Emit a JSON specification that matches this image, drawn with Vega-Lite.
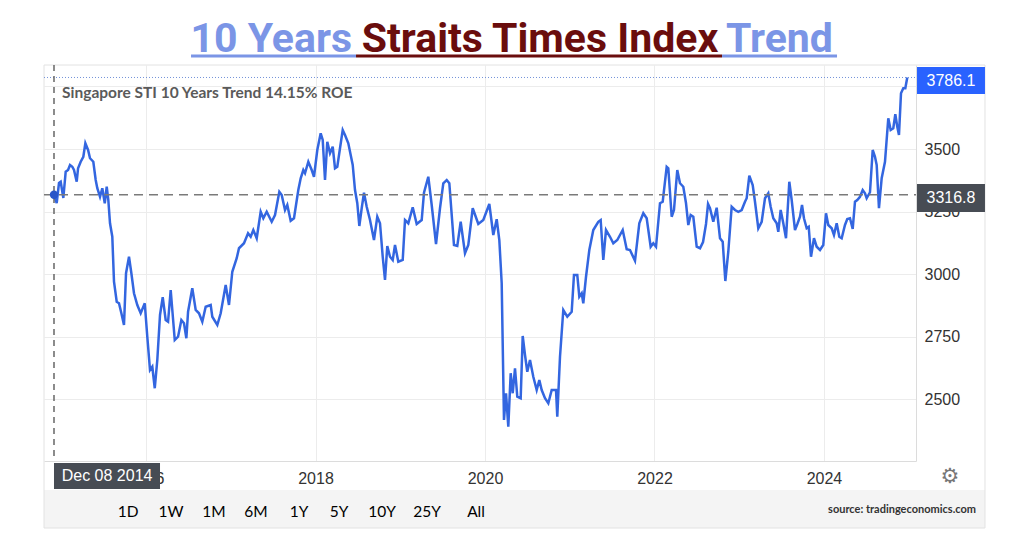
{
  "$schema": "https://vega.github.io/schema/vega-lite/v6.json",
  "width": 872,
  "height": 396,
  "autosize": {"type": "none"},
  "padding": {"left": 44, "top": 65, "right": 108, "bottom": 85},
  "background": "white",
  "config": {
    "view": {"stroke": null},
    "style": {
      "btn": {"font": "Lato", "fontSize": 15.5, "fill": "#444", "align": "center", "baseline": "middle"},
      "ttl": {"font": "Roboto", "fontSize": 41, "fontWeight": "bold", "baseline": "alphabetic"}
    }
  },
  "data": {
    "values": [
      {"year": 2014.875, "close": 3322}, {"year": 2014.914, "close": 3317}, {"year": 2014.946, "close": 3284},
      {"year": 2014.973, "close": 3364}, {"year": 2014.993, "close": 3369}, {"year": 2015.024, "close": 3304},
      {"year": 2015.052, "close": 3409}, {"year": 2015.080, "close": 3416}, {"year": 2015.103, "close": 3436},
      {"year": 2015.130, "close": 3429}, {"year": 2015.150, "close": 3416}, {"year": 2015.182, "close": 3369},
      {"year": 2015.198, "close": 3423}, {"year": 2015.229, "close": 3449}, {"year": 2015.260, "close": 3469},
      {"year": 2015.284, "close": 3523}, {"year": 2015.316, "close": 3496}, {"year": 2015.339, "close": 3463},
      {"year": 2015.378, "close": 3449}, {"year": 2015.406, "close": 3376}, {"year": 2015.425, "close": 3343},
      {"year": 2015.457, "close": 3309}, {"year": 2015.484, "close": 3343}, {"year": 2015.513, "close": 3283},
      {"year": 2015.536, "close": 3349}, {"year": 2015.555, "close": 3296}, {"year": 2015.575, "close": 3203},
      {"year": 2015.602, "close": 3149}, {"year": 2015.622, "close": 2969}, {"year": 2015.654, "close": 2889},
      {"year": 2015.681, "close": 2883}, {"year": 2015.709, "close": 2843}, {"year": 2015.740, "close": 2796},
      {"year": 2015.764, "close": 3003}, {"year": 2015.799, "close": 3069}, {"year": 2015.827, "close": 3003},
      {"year": 2015.858, "close": 2923}, {"year": 2015.897, "close": 2876}, {"year": 2015.937, "close": 2843},
      {"year": 2015.985, "close": 2883}, {"year": 2016.015, "close": 2749}, {"year": 2016.047, "close": 2616},
      {"year": 2016.074, "close": 2629}, {"year": 2016.103, "close": 2543}, {"year": 2016.133, "close": 2656},
      {"year": 2016.165, "close": 2836}, {"year": 2016.197, "close": 2907}, {"year": 2016.232, "close": 2816},
      {"year": 2016.260, "close": 2809}, {"year": 2016.291, "close": 2936}, {"year": 2016.339, "close": 2736},
      {"year": 2016.378, "close": 2749}, {"year": 2016.417, "close": 2816}, {"year": 2016.448, "close": 2803},
      {"year": 2016.476, "close": 2743}, {"year": 2016.496, "close": 2849}, {"year": 2016.546, "close": 2943},
      {"year": 2016.586, "close": 2856}, {"year": 2016.625, "close": 2843}, {"year": 2016.664, "close": 2809},
      {"year": 2016.704, "close": 2869}, {"year": 2016.763, "close": 2876}, {"year": 2016.782, "close": 2829},
      {"year": 2016.841, "close": 2796}, {"year": 2016.881, "close": 2843}, {"year": 2016.940, "close": 2956},
      {"year": 2016.979, "close": 2876}, {"year": 2017.018, "close": 3009}, {"year": 2017.070, "close": 3063},
      {"year": 2017.097, "close": 3103}, {"year": 2017.156, "close": 3123}, {"year": 2017.204, "close": 3163},
      {"year": 2017.235, "close": 3149}, {"year": 2017.266, "close": 3176}, {"year": 2017.306, "close": 3143},
      {"year": 2017.353, "close": 3249}, {"year": 2017.384, "close": 3223}, {"year": 2017.424, "close": 3249},
      {"year": 2017.483, "close": 3209}, {"year": 2017.522, "close": 3236}, {"year": 2017.573, "close": 3329},
      {"year": 2017.601, "close": 3316}, {"year": 2017.640, "close": 3256}, {"year": 2017.667, "close": 3276},
      {"year": 2017.707, "close": 3213}, {"year": 2017.746, "close": 3223}, {"year": 2017.797, "close": 3336},
      {"year": 2017.825, "close": 3383}, {"year": 2017.856, "close": 3416}, {"year": 2017.876, "close": 3403},
      {"year": 2017.915, "close": 3449}, {"year": 2017.955, "close": 3416}, {"year": 2017.982, "close": 3389},
      {"year": 2018.021, "close": 3496}, {"year": 2018.061, "close": 3563}, {"year": 2018.085, "close": 3536},
      {"year": 2018.112, "close": 3376}, {"year": 2018.139, "close": 3529}, {"year": 2018.171, "close": 3483},
      {"year": 2018.203, "close": 3509}, {"year": 2018.230, "close": 3423}, {"year": 2018.257, "close": 3429},
      {"year": 2018.289, "close": 3503}, {"year": 2018.321, "close": 3576}, {"year": 2018.348, "close": 3556},
      {"year": 2018.387, "close": 3523}, {"year": 2018.439, "close": 3436}, {"year": 2018.466, "close": 3336},
      {"year": 2018.493, "close": 3283}, {"year": 2018.517, "close": 3192}, {"year": 2018.545, "close": 3263},
      {"year": 2018.572, "close": 3325}, {"year": 2018.604, "close": 3269}, {"year": 2018.643, "close": 3216},
      {"year": 2018.690, "close": 3136}, {"year": 2018.729, "close": 3229}, {"year": 2018.761, "close": 3203},
      {"year": 2018.793, "close": 3069}, {"year": 2018.820, "close": 2976}, {"year": 2018.847, "close": 3112},
      {"year": 2018.879, "close": 3069}, {"year": 2018.911, "close": 3056}, {"year": 2018.938, "close": 3116},
      {"year": 2018.977, "close": 3049}, {"year": 2019.029, "close": 3056}, {"year": 2019.056, "close": 3216},
      {"year": 2019.095, "close": 3203}, {"year": 2019.147, "close": 3267}, {"year": 2019.194, "close": 3200},
      {"year": 2019.253, "close": 3216}, {"year": 2019.280, "close": 3325}, {"year": 2019.331, "close": 3389},
      {"year": 2019.371, "close": 3276}, {"year": 2019.422, "close": 3120}, {"year": 2019.469, "close": 3263},
      {"year": 2019.508, "close": 3363}, {"year": 2019.548, "close": 3376}, {"year": 2019.579, "close": 3363},
      {"year": 2019.634, "close": 3116}, {"year": 2019.673, "close": 3112}, {"year": 2019.713, "close": 3209},
      {"year": 2019.764, "close": 3083}, {"year": 2019.803, "close": 3116}, {"year": 2019.855, "close": 3263},
      {"year": 2019.921, "close": 3200}, {"year": 2019.980, "close": 3216}, {"year": 2020.051, "close": 3280},
      {"year": 2020.098, "close": 3156}, {"year": 2020.138, "close": 3219}, {"year": 2020.169, "close": 3136},
      {"year": 2020.197, "close": 2963}, {"year": 2020.224, "close": 2416}, {"year": 2020.248, "close": 2523},
      {"year": 2020.275, "close": 2389}, {"year": 2020.303, "close": 2603}, {"year": 2020.327, "close": 2523},
      {"year": 2020.354, "close": 2623}, {"year": 2020.381, "close": 2509}, {"year": 2020.421, "close": 2503},
      {"year": 2020.445, "close": 2752}, {"year": 2020.472, "close": 2676}, {"year": 2020.499, "close": 2609},
      {"year": 2020.531, "close": 2656}, {"year": 2020.570, "close": 2589}, {"year": 2020.610, "close": 2536},
      {"year": 2020.641, "close": 2576}, {"year": 2020.669, "close": 2536}, {"year": 2020.708, "close": 2503},
      {"year": 2020.747, "close": 2483}, {"year": 2020.787, "close": 2536}, {"year": 2020.838, "close": 2536},
      {"year": 2020.853, "close": 2429}, {"year": 2020.885, "close": 2669}, {"year": 2020.924, "close": 2856},
      {"year": 2020.971, "close": 2829}, {"year": 2021.023, "close": 2849}, {"year": 2021.050, "close": 2996},
      {"year": 2021.089, "close": 2996}, {"year": 2021.113, "close": 2909}, {"year": 2021.141, "close": 2923},
      {"year": 2021.160, "close": 2883}, {"year": 2021.192, "close": 2989}, {"year": 2021.231, "close": 3096},
      {"year": 2021.278, "close": 3176}, {"year": 2021.337, "close": 3209}, {"year": 2021.365, "close": 3216},
      {"year": 2021.396, "close": 3056}, {"year": 2021.428, "close": 3176}, {"year": 2021.475, "close": 3149},
      {"year": 2021.514, "close": 3123}, {"year": 2021.561, "close": 3136}, {"year": 2021.625, "close": 3176},
      {"year": 2021.672, "close": 3099}, {"year": 2021.711, "close": 3096}, {"year": 2021.770, "close": 3053},
      {"year": 2021.821, "close": 3203}, {"year": 2021.868, "close": 3243}, {"year": 2021.908, "close": 3223},
      {"year": 2021.955, "close": 3109}, {"year": 2021.986, "close": 3123}, {"year": 2022.018, "close": 3109},
      {"year": 2022.065, "close": 3283}, {"year": 2022.097, "close": 3289}, {"year": 2022.144, "close": 3429},
      {"year": 2022.163, "close": 3423}, {"year": 2022.203, "close": 3229}, {"year": 2022.230, "close": 3256},
      {"year": 2022.269, "close": 3416}, {"year": 2022.301, "close": 3363}, {"year": 2022.340, "close": 3349},
      {"year": 2022.372, "close": 3283}, {"year": 2022.399, "close": 3196}, {"year": 2022.427, "close": 3236},
      {"year": 2022.458, "close": 3229}, {"year": 2022.498, "close": 3109}, {"year": 2022.537, "close": 3103},
      {"year": 2022.573, "close": 3128}, {"year": 2022.608, "close": 3200}, {"year": 2022.632, "close": 3280},
      {"year": 2022.655, "close": 3263}, {"year": 2022.694, "close": 3209}, {"year": 2022.734, "close": 3265},
      {"year": 2022.773, "close": 3143}, {"year": 2022.805, "close": 3129}, {"year": 2022.836, "close": 2972},
      {"year": 2022.871, "close": 3089}, {"year": 2022.911, "close": 3269}, {"year": 2022.950, "close": 3256},
      {"year": 2022.989, "close": 3249}, {"year": 2023.029, "close": 3256}, {"year": 2023.068, "close": 3289},
      {"year": 2023.088, "close": 3303}, {"year": 2023.119, "close": 3393}, {"year": 2023.159, "close": 3356},
      {"year": 2023.186, "close": 3289}, {"year": 2023.225, "close": 3183}, {"year": 2023.265, "close": 3209},
      {"year": 2023.304, "close": 3303}, {"year": 2023.343, "close": 3323}, {"year": 2023.371, "close": 3269},
      {"year": 2023.402, "close": 3223}, {"year": 2023.442, "close": 3203}, {"year": 2023.461, "close": 3169},
      {"year": 2023.489, "close": 3256}, {"year": 2023.520, "close": 3203}, {"year": 2023.552, "close": 3143},
      {"year": 2023.591, "close": 3369}, {"year": 2023.619, "close": 3296}, {"year": 2023.658, "close": 3176},
      {"year": 2023.685, "close": 3199}, {"year": 2023.717, "close": 3229}, {"year": 2023.741, "close": 3276},
      {"year": 2023.764, "close": 3223}, {"year": 2023.796, "close": 3183}, {"year": 2023.820, "close": 3189},
      {"year": 2023.847, "close": 3069}, {"year": 2023.882, "close": 3143}, {"year": 2023.914, "close": 3109},
      {"year": 2023.953, "close": 3096}, {"year": 2023.992, "close": 3116}, {"year": 2024.024, "close": 3243},
      {"year": 2024.051, "close": 3196}, {"year": 2024.091, "close": 3183}, {"year": 2024.118, "close": 3156},
      {"year": 2024.150, "close": 3203}, {"year": 2024.181, "close": 3149}, {"year": 2024.209, "close": 3143},
      {"year": 2024.248, "close": 3196}, {"year": 2024.275, "close": 3220}, {"year": 2024.307, "close": 3223},
      {"year": 2024.339, "close": 3180}, {"year": 2024.366, "close": 3289}, {"year": 2024.393, "close": 3296},
      {"year": 2024.425, "close": 3309}, {"year": 2024.457, "close": 3336}, {"year": 2024.484, "close": 3323},
      {"year": 2024.504, "close": 3303}, {"year": 2024.543, "close": 3327}, {"year": 2024.575, "close": 3496},
      {"year": 2024.602, "close": 3469}, {"year": 2024.622, "close": 3436}, {"year": 2024.649, "close": 3263},
      {"year": 2024.681, "close": 3383}, {"year": 2024.720, "close": 3449}, {"year": 2024.759, "close": 3623},
      {"year": 2024.787, "close": 3576}, {"year": 2024.818, "close": 3583}, {"year": 2024.842, "close": 3639},
      {"year": 2024.865, "close": 3589}, {"year": 2024.885, "close": 3556}, {"year": 2024.909, "close": 3723},
      {"year": 2024.936, "close": 3743}, {"year": 2024.960, "close": 3743}, {"year": 2024.983, "close": 3786.1}
    ]
  },
  "layer": [
    {
      "mark": {"type": "line", "color": "#3366e0", "strokeWidth": 2.5},
      "encoding": {
        "x": {
          "field": "year", "type": "quantitative",
          "scale": {"domain": [2014.796, 2025.086], "zero": false, "nice": false},
          "axis": {
            "title": null, "values": [2016, 2018, 2020, 2022, 2024], "format": "d",
            "grid": true, "gridColor": "#ececec", "tickSize": 0, "labelPadding": 9,
            "labelFont": "Liberation Sans", "labelFontSize": 16, "labelColor": "#333333",
            "domainColor": "#dcdcdc", "labelFlush": false
          }
        },
        "y": {
          "field": "close", "type": "quantitative",
          "scale": {"domain": [2252, 3836], "zero": false, "nice": false},
          "axis": {
            "title": null, "orient": "right", "values": [2500, 2750, 3000, 3250, 3500, 3750],
            "format": "d", "labelExpr": "datum.value == 3750 ? '' : datum.label",
            "grid": true, "gridColor": "#ececec", "tickSize": 0, "labelPadding": 8,
            "labelFont": "Liberation Sans", "labelFontSize": 16, "labelColor": "#333333",
            "domainColor": "#dcdcdc"
          }
        }
      }
    },
    {
      "data": {"values": [{}]},
      "mark": {"type": "rect", "fill": "#f4f4f4"},
      "encoding": {
        "x": {"datum": 2014.796}, "x2": {"datum": 2025.9},
        "y": {"datum": 2136}, "y2": {"datum": 1984}
      }
    },
    {
      "data": {"values": [{}]},
      "mark": {"type": "rect", "fillOpacity": 0, "stroke": "#e2e2e2", "strokeWidth": 1},
      "encoding": {
        "x": {"datum": 2014.796}, "x2": {"datum": 2025.9},
        "y": {"datum": 3836}, "y2": {"datum": 1984}
      }
    },
    {
      "data": {"values": [{}]},
      "mark": {"type": "rule", "color": "#7391d8", "strokeWidth": 1, "strokeDash": [1, 2]},
      "encoding": {
        "x": {"datum": 2014.796}, "x2": {"datum": 2025.086},
        "y": {"datum": 3786.1}
      }
    },
    {
      "data": {"values": [{}]},
      "mark": {"type": "rule", "color": "#7a7a7a", "strokeWidth": 1.6, "strokeDash": [9, 6]},
      "encoding": {
        "x": {"datum": 2014.796}, "x2": {"datum": 2025.086},
        "y": {"datum": 3316.8}
      }
    },
    {
      "data": {"values": [{}]},
      "mark": {"type": "rule", "color": "#666666", "strokeWidth": 1.5, "strokeDash": [6, 5]},
      "encoding": {
        "x": {"datum": 2014.914},
        "y": {"datum": 3836}, "y2": {"datum": 2252}
      }
    },
    {
      "data": {"values": [{}]},
      "mark": {"type": "point", "filled": true, "color": "#2a55c8", "size": 70, "opacity": 1},
      "encoding": {"x": {"datum": 2014.914}, "y": {"datum": 3317}}
    },
    {
      "data": {"values": [{}]},
      "mark": {"type": "rect", "fill": "#2962ff"},
      "encoding": {
        "x": {"datum": 2025.098}, "x2": {"datum": 2025.9},
        "y": {"datum": 3828}, "y2": {"datum": 3720}
      }
    },
    {
      "data": {"values": [{}]},
      "mark": {"type": "text", "text": "3786.1", "font": "Liberation Sans", "fontSize": 16, "fill": "white", "align": "center", "baseline": "middle"},
      "encoding": {"x": {"datum": 2025.499}, "y": {"datum": 3774}}
    },
    {
      "data": {"values": [{}]},
      "mark": {"type": "rect", "fill": "#474c54"},
      "encoding": {
        "x": {"datum": 2025.098}, "x2": {"datum": 2025.9},
        "y": {"datum": 3360}, "y2": {"datum": 3248}
      }
    },
    {
      "data": {"values": [{}]},
      "mark": {"type": "text", "text": "3316.8", "font": "Liberation Sans", "fontSize": 16, "fill": "white", "align": "center", "baseline": "middle"},
      "encoding": {"x": {"datum": 2025.499}, "y": {"datum": 3304}}
    },
    {
      "data": {"values": [{}]},
      "mark": {"type": "rect", "fill": "#474c54"},
      "encoding": {
        "x": {"datum": 2014.914}, "x2": {"datum": 2016.165},
        "y": {"datum": 2244}, "y2": {"datum": 2140}
      }
    },
    {
      "data": {"values": [{}]},
      "mark": {"type": "text", "text": "Dec 08 2014", "font": "Liberation Sans", "fontSize": 16, "fill": "white", "align": "center", "baseline": "middle"},
      "encoding": {"x": {"datum": 2015.54}, "y": {"datum": 2192}}
    },
    {
      "data": {"values": [{}]},
      "mark": {"type": "text", "text": "⚙", "font": "DejaVu Sans", "fontSize": 21, "fill": "#777777", "align": "center", "baseline": "middle"},
      "encoding": {"x": {"datum": 2025.487}, "y": {"datum": 2188}}
    },
    {
      "data": {"values": [{}]},
      "mark": {"type": "text", "text": "Singapore STI 10 Years Trend 14.15% ROE", "font": "Lato", "fontSize": 15.5, "fontWeight": "bold", "fill": "#5a5a5a", "align": "left", "baseline": "middle"},
      "encoding": {"x": {"datum": 2015.009}, "y": {"datum": 3724}}
    },
    {
      "data": {"values": [{}]},
      "mark": {"type": "text", "text": "source: tradingeconomics.com", "font": "Lato", "fontSize": 11, "fontWeight": "bold", "fill": "#333333", "align": "right", "baseline": "middle"},
      "encoding": {"x": {"datum": 2025.794}, "y": {"datum": 2056}}
    },
    {"data": {"values": [{}]}, "mark": {"type": "text", "style": "btn", "text": "1D"}, "encoding": {"x": {"datum": 2015.788}, "y": {"datum": 2048}}},
    {"data": {"values": [{}]}, "mark": {"type": "text", "style": "btn", "text": "1W"}, "encoding": {"x": {"datum": 2016.295}, "y": {"datum": 2048}}},
    {"data": {"values": [{}]}, "mark": {"type": "text", "style": "btn", "text": "1M"}, "encoding": {"x": {"datum": 2016.802}, "y": {"datum": 2048}}},
    {"data": {"values": [{}]}, "mark": {"type": "text", "style": "btn", "text": "6M"}, "encoding": {"x": {"datum": 2017.298}, "y": {"datum": 2048}}},
    {"data": {"values": [{}]}, "mark": {"type": "text", "style": "btn", "text": "1Y"}, "encoding": {"x": {"datum": 2017.805}, "y": {"datum": 2048}}},
    {"data": {"values": [{}]}, "mark": {"type": "text", "style": "btn", "text": "5Y"}, "encoding": {"x": {"datum": 2018.277}, "y": {"datum": 2048}}},
    {"data": {"values": [{}]}, "mark": {"type": "text", "style": "btn", "text": "10Y"}, "encoding": {"x": {"datum": 2018.785}, "y": {"datum": 2048}}},
    {"data": {"values": [{}]}, "mark": {"type": "text", "style": "btn", "text": "25Y"}, "encoding": {"x": {"datum": 2019.316}, "y": {"datum": 2048}}},
    {"data": {"values": [{}]}, "mark": {"type": "text", "style": "btn", "text": "All"}, "encoding": {"x": {"datum": 2019.894}, "y": {"datum": 2048}}},
    {
      "data": {"values": [{}]},
      "mark": {"type": "text", "style": "ttl", "text": "10 Years", "fill": "#7b95e6", "align": "right"},
      "encoding": {"x": {"datum": 2018.431}, "y": {"datum": 3888}}
    },
    {
      "data": {"values": [{}]},
      "mark": {"type": "text", "style": "ttl", "text": "Straits Times Index", "fill": "#6a0d0d", "align": "center"},
      "encoding": {"x": {"datum": 2020.649}, "y": {"datum": 3888}}
    },
    {
      "data": {"values": [{}]},
      "mark": {"type": "text", "style": "ttl", "text": "Trend", "fill": "#7b95e6", "align": "left"},
      "encoding": {"x": {"datum": 2022.844}, "y": {"datum": 3888}}
    },
    {
      "data": {"values": [{}]},
      "mark": {"type": "rule", "color": "#7b95e6", "strokeWidth": 3},
      "encoding": {"x": {"datum": 2016.531}, "x2": {"datum": 2018.478}, "y": {"datum": 3872}}
    },
    {
      "data": {"values": [{}]},
      "mark": {"type": "rule", "color": "#6a0d0d", "strokeWidth": 3},
      "encoding": {"x": {"datum": 2018.478}, "x2": {"datum": 2022.797}, "y": {"datum": 3872}}
    },
    {
      "data": {"values": [{}]},
      "mark": {"type": "rule", "color": "#7b95e6", "strokeWidth": 3},
      "encoding": {"x": {"datum": 2022.797}, "x2": {"datum": 2024.154}, "y": {"datum": 3872}}
    }
  ]
}
